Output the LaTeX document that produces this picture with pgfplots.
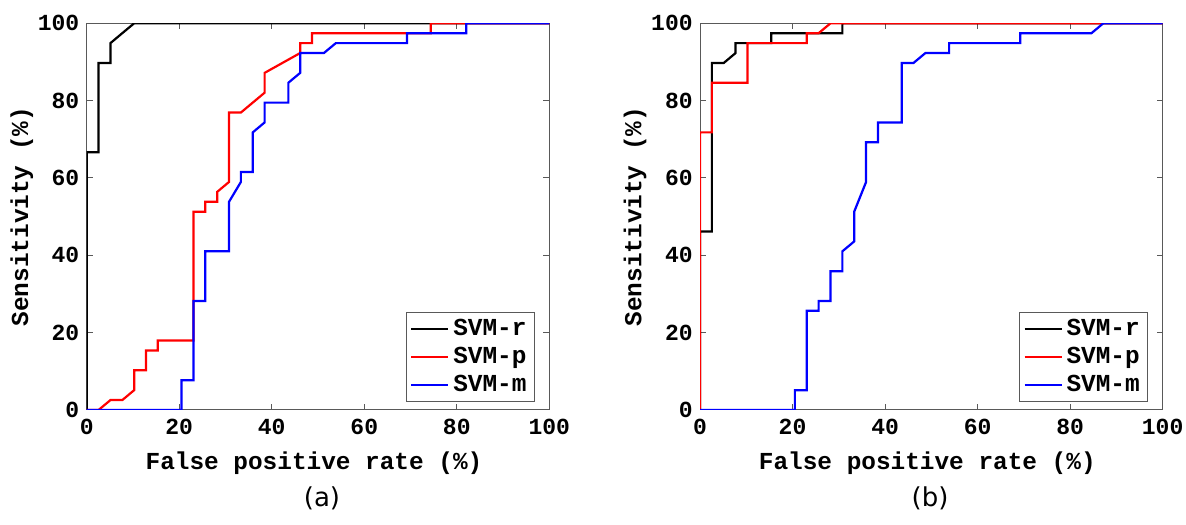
\documentclass[border=0pt]{standalone}
\usepackage{fontspec}
\usepackage{pgfplots}
\pgfplotsset{compat=1.18}
\newfontfamily\cour{Liberation Mono}
\newfontfamily\dejavu{DejaVu Sans}

\pgfplotsset{
  rocstyle/.style={
    scale only axis,
    width=231.3pt, height=193.35pt,
    xmin=0, xmax=100, ymin=0, ymax=100,
    xtick={0,20,...,100}, ytick={0,20,...,100},
    tick align=inside,
    major tick length=3pt,
    axis line style={black!65, line width=0.5pt},
    every tick/.style={black!65, line width=0.5pt},
    /pgf/number format/assume math mode=true,
    ticklabel style={font=\cour\bfseries\fontsize{11.5}{12}\selectfont, inner sep=0pt},
    xticklabel style={anchor=north, yshift=-4.5pt},
    yticklabel style={anchor=east, xshift=-3.5pt},
    label style={font=\cour\bfseries\fontsize{12.2}{14}\selectfont},
    xlabel={False positive rate (\%)},
    ylabel={Sensitivity (\%)},
    xlabel style={at={(axis description cs:0.5,-0.137)}, anchor=center, xshift=-2pt},
    ylabel style={at={(axis description cs:-0.1405,0.5)}, anchor=center, rotate=0},
    legend style={at={(axis description cs:0.969,0.0207)}, anchor=south east,
      draw=black!65, line width=0.5pt, fill=white,
      font=\cour\bfseries\fontsize{12.2}{14}\selectfont,
      inner xsep=2pt, inner ysep=1pt,
      nodes={inner xsep=2pt, inner ysep=1.6pt, text height=8.5pt, text depth=2.4pt}},
    legend cell align=left,
    legend image code/.code={\draw[#1, line width=1pt] (0pt,0pt) -- (18.5pt,0pt);},
    every axis plot/.append style={line width=1.1pt},
  }
}

\begin{document}
\begin{tikzpicture}
\useasboundingbox (0,0) rectangle (593pt,262pt);

% ---------------- (a) ----------------
\begin{axis}[rocstyle, at={(43.35pt,57pt)}, anchor=south west]
\addplot[black] coordinates {
(0,0) (0,66.67) (2.56,66.67) (2.56,89.74) (5.13,89.74) (5.13,94.87) (7.69,97.44) (10.26,100) (100,100)};
\addlegendentry{SVM-r}
\addplot[red] coordinates {
(0,0) (2.56,0) (5.13,2.56) (7.69,2.56) (10.26,5.13) (10.26,10.26) (12.82,10.26) (12.82,15.38)
(15.38,15.38) (15.38,17.95) (23.08,17.95) (23.08,51.28) (25.64,51.28) (25.64,53.85)
(28.21,53.85) (28.21,56.41) (30.77,58.97) (30.77,76.92) (33.33,76.92) (38.46,82.05)
(38.46,87.18) (46.15,92.31) (46.15,94.87) (48.72,94.87) (48.72,97.44) (74.36,97.44)
(74.36,100) (100,100)};
\addlegendentry{SVM-p}
\addplot[blue] coordinates {
(0,0) (20.51,0) (20.51,7.69) (23.08,7.69) (23.08,28.21) (25.64,28.21) (25.64,41.03)
(30.77,41.03) (30.77,53.85) (33.33,58.97) (33.33,61.54) (35.90,61.54) (35.90,71.79)
(38.46,74.36) (38.46,79.49) (43.59,79.49) (43.59,84.62) (46.15,87.18) (46.15,92.31)
(51.28,92.31) (53.85,94.87) (69.23,94.87) (69.23,97.44) (82.05,97.44) (82.05,100) (100,100)};
\addlegendentry{SVM-m}
\end{axis}

% ---------------- (b) ----------------
\begin{axis}[rocstyle, at={(350pt,57pt)}, anchor=south west]
\addplot[black] coordinates {
(0,0) (0,46.15) (2.56,46.15) (2.56,89.74) (5.13,89.74) (7.69,92.31) (7.69,94.87)
(15.38,94.87) (15.38,97.44) (30.77,97.44) (30.77,100) (100,100)};
\addlegendentry{SVM-r}
\addplot[red] coordinates {
(0,0) (0,71.79) (2.56,71.79) (2.56,84.62) (10.26,84.62) (10.26,94.87) (23.08,94.87)
(23.08,97.44) (25.64,97.44) (28.21,100) (100,100)};
\addlegendentry{SVM-p}
\addplot[blue] coordinates {
(0,0) (20.51,0) (20.51,5.13) (23.08,5.13) (23.08,25.64) (25.64,25.64) (25.64,28.21)
(28.21,28.21) (28.21,35.90) (30.77,35.90) (30.77,41.03) (33.33,43.59) (33.33,51.28)
(35.90,58.97) (35.90,69.23) (38.46,69.23) (38.46,74.36) (43.59,74.36) (43.59,89.74)
(46.15,89.74) (48.72,92.31) (53.85,92.31) (53.85,94.87) (69.23,94.87) (69.23,97.44)
(84.62,97.44) (87.18,100) (100,100)};
\addlegendentry{SVM-m}
\end{axis}

\node[font=\dejavu\fontsize{13}{15}\selectfont] at (161pt,13pt) {(a)};
\node[font=\dejavu\fontsize{13}{15}\selectfont] at (465pt,13pt) {(b)};
\end{tikzpicture}
\end{document}
